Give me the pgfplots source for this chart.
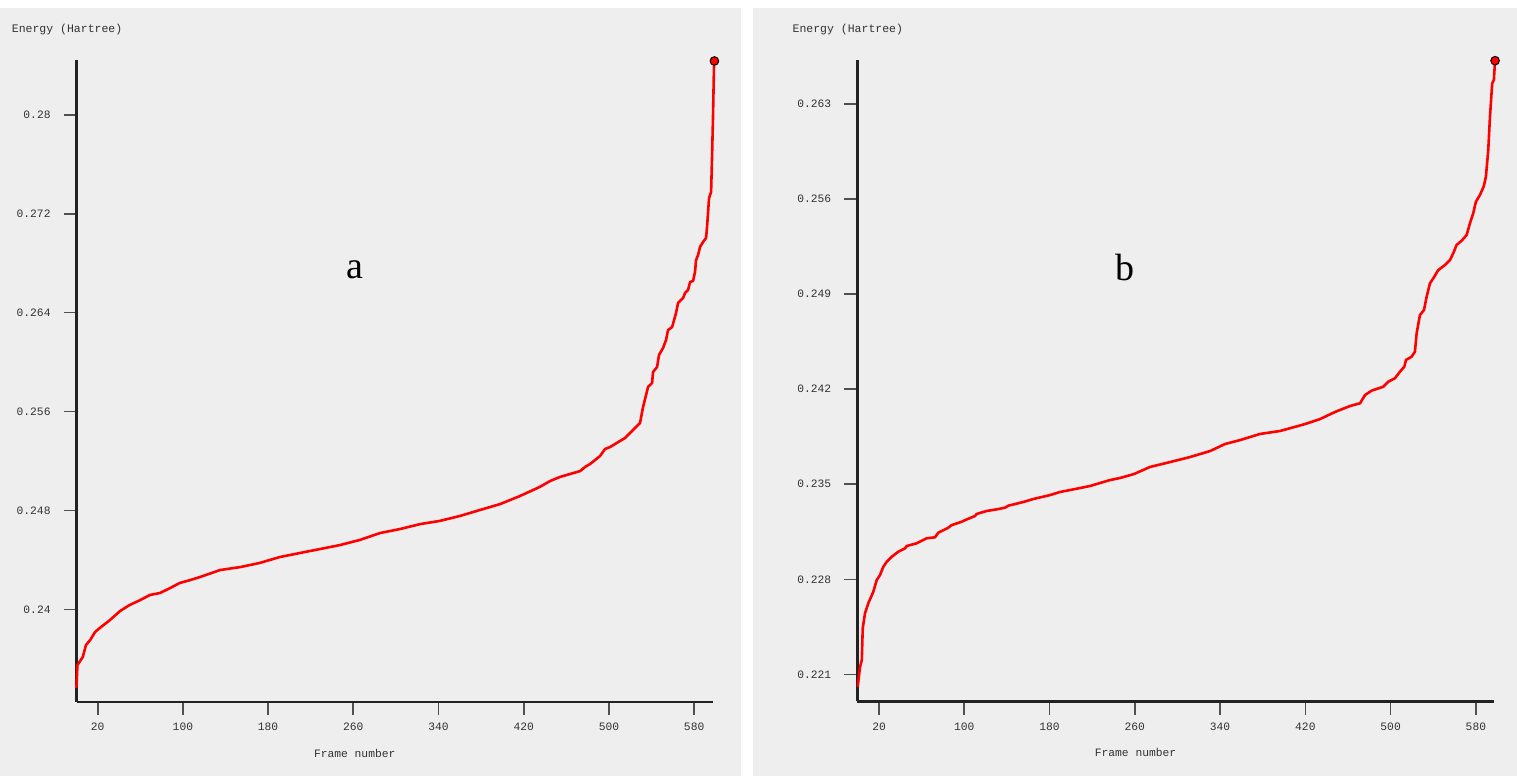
\documentclass[border=0pt]{standalone}
\usepackage{fontspec}
\setmainfont{Liberation Serif}
\newfontfamily\mono{Liberation Mono}
\usepackage{pgfplots}
\usepackage{pgfplotstable}
\pgfplotsset{compat=1.18}
\definecolor{panel}{RGB}{238,238,238}
\definecolor{axcol}{RGB}{34,34,34}
\definecolor{tickcol}{RGB}{80,80,80}
\definecolor{labcol}{RGB}{50,50,50}

\pgfplotstableread{
f E
0 0.23363
1 0.23549
6 0.23614
9 0.23711
13 0.23752
17.5 0.23816
22 0.23849
31.5 0.23913
41 0.23986
50 0.24035
60 0.24075
69 0.24116
78.5 0.24132
88 0.24172
97 0.24213
107 0.24237
116 0.24261
135 0.24318
154 0.24342
172 0.24375
191 0.24423
210 0.24456
229 0.24488
247.5 0.24520
266 0.24561
285 0.24617
304 0.24650
323 0.24690
341 0.24715
360 0.24755
379 0.24804
398 0.24852
416.5 0.24917
435 0.24990
444.7 0.25038
454 0.25071
463.5 0.25095
473 0.25119
477.6 0.25152
482.3 0.25176
487 0.25208
491.7 0.25241
496.3 0.25297
501 0.25313
510.4 0.25362
515.1 0.25386
519.8 0.25427
524.5 0.25467
529.2 0.25508
532 0.25637
536.7 0.25799
540.5 0.25831
541.4 0.25920
545.2 0.25961
547 0.26058
550.8 0.26115
553.6 0.26179
555.5 0.26260
559.3 0.26284
563 0.26398
564.9 0.26479
569.6 0.26519
571.5 0.26560
574.3 0.26584
576.2 0.26649
579 0.26657
580.8 0.26730
581.8 0.26827
583.7 0.26867
585.5 0.26932
588.4 0.26973
591.2 0.27005
592.1 0.27094
594 0.27328
595.9 0.27377
596.8 0.27660
597.7 0.27984
598.6 0.28389
599 0.28437
}\dataA

\pgfplotstableread{
f E
0 0.22009
2.2 0.22156
3.8 0.22205
4.7 0.22439
6.8 0.22549
9.9 0.22623
14.6 0.22708
17.8 0.22794
20.9 0.22831
24 0.22892
27.2 0.22929
31.9 0.22966
38.1 0.23003
44.4 0.23028
46 0.23045
55.3 0.23065
64.7 0.23102
72.5 0.23109
75.6 0.23143
85 0.23180
88.2 0.23199
97.6 0.23224
102.3 0.23241
110 0.23266
111.6 0.23281
121 0.23303
130.4 0.23315
138.2 0.23327
141.3 0.23342
155.3 0.23369
164.7 0.23391
180.4 0.23420
189.8 0.23443
199.2 0.23457
208.6 0.23472
218 0.23487
227.4 0.23509
236.8 0.23531
246.2 0.23546
259.2 0.23575
274.2 0.23627
293 0.23663
311.7 0.23700
330.5 0.23744
344.6 0.23796
358.7 0.23825
377.4 0.23870
396.2 0.23892
419.7 0.23943
433.8 0.23980
447.8 0.24032
461.9 0.24076
471.3 0.24096
476 0.24157
482.2 0.24189
493.1 0.24218
497.8 0.24255
504 0.24280
508.7 0.24328
512.8 0.24365
514.4 0.24415
519.7 0.24439
522.8 0.24476
524.4 0.24611
527.5 0.24746
531.3 0.24783
533.8 0.24881
536.9 0.24979
540 0.25016
544.7 0.25077
551 0.25114
555.7 0.25151
558.7 0.25200
561.9 0.25262
566.6 0.25293
571.3 0.25335
574.4 0.25421
577.5 0.25495
580 0.25580
583.8 0.25630
587.5 0.25696
589.4 0.25765
591.6 0.25961
593.2 0.26206
595.3 0.26452
596.9 0.26477
597.8 0.26600
598 0.26619
}\dataB

\pgfplotsset{
  panelstyle/.style={
    scale only axis,
    anchor=south west,
    axis lines=left,
    axis line style={-, line width=2.6pt, color=axcol},
    tick align=outside,
    major tick length=13pt,
    x tick style={line width=1.7pt, color=tickcol},
    y tick style={line width=1.5pt, color=tickcol},
    minor tick num=0,
    clip=false,
    xtick={20,100,180,260,340,420,500,580},
    /pgf/number format/assume math mode=true,
    /pgf/number format/fixed,
    /pgf/number format/precision=3,
    ticklabel style={font=\mono\fontsize{11.3}{13}\selectfont, text=labcol},
    xticklabel style={yshift=-4.5pt},
    yticklabel style={xshift=-9.5pt},
    xlabel={Frame number},
    every axis x label/.style={at={(rel axis cs:0.437,0)}, anchor=center, yshift=-51pt, font=\mono\fontsize{11.3}{13}\selectfont, text=labcol},
    ylabel={Energy (Hartree)},
    every axis y label/.style={at={(rel axis cs:0,1)}, anchor=center, xshift=-9.5pt, yshift=30.5pt, font=\mono\fontsize{11.5}{13}\selectfont, text=labcol},
  },
}

\begin{document}
\begin{tikzpicture}
\fill[white] (0pt,0pt) rectangle (1517pt,776pt);
\fill[panel] (0pt,0pt) rectangle (741pt,768pt);
\fill[panel] (752.5pt,0pt) rectangle (1517pt,768pt);

\begin{axis}[panelstyle,
  at={(76.6pt,74pt)},
  width=636.4pt, height=642pt,
  xmin=0.2, xmax=597.7,
  ymin=0.2325, ymax=0.28445,
  ytick={0.24,0.248,0.256,0.264,0.272,0.28},
]
\addplot[red, line width=2.6pt, line join=round] table[x=f, y=E] {\dataA};
\addplot[only marks, mark=*, mark size=4.3pt, mark options={fill=red, draw=black, line width=1pt}] coordinates {(599,0.28437)};
\node[font=\fontsize{38}{40}\selectfont] at (rel axis cs:0.437,0.673) {a};
\end{axis}

\begin{axis}[panelstyle,
  at={(857.3pt,74.5pt)},
  width=636.7pt, height=641.5pt,
  xmin=-0.4, xmax=597,
  ymin=0.219, ymax=0.26624,
  ytick={0.221,0.228,0.235,0.242,0.249,0.256,0.263},
]
\addplot[red, line width=2.6pt, line join=round] table[x=f, y=E] {\dataB};
\addplot[only marks, mark=*, mark size=4.3pt, mark options={fill=red, draw=black, line width=1pt}] coordinates {(598,0.26619)};
\node[font=\fontsize{38}{40}\selectfont] at (rel axis cs:0.421,0.676) {b};
\end{axis}
\end{tikzpicture}
\end{document}
